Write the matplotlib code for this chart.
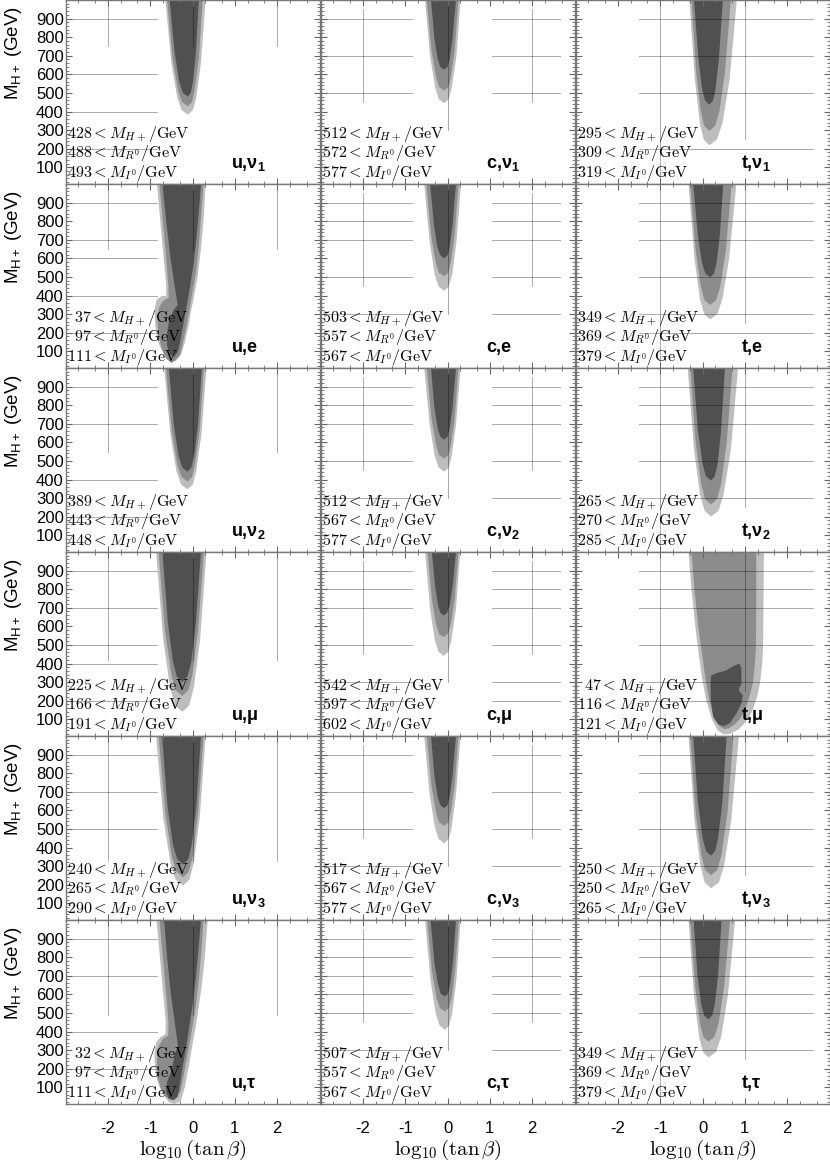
import numpy as np
import matplotlib.pyplot as plt
from matplotlib.ticker import FixedLocator, MultipleLocator

plt.rcParams['font.family'] = 'Liberation Sans'
plt.rcParams['mathtext.fontset'] = 'custom'
plt.rcParams['mathtext.rm'] = 'Liberation Sans'
plt.rcParams['mathtext.it'] = 'Liberation Sans:italic'
plt.rcParams['mathtext.bf'] = 'Liberation Sans:bold'

# panel grid: rows = lepton, columns = quark
quarks = ['u', 'c', 't']
leptons = [r'ν$_\mathbf{1}$', 'e', r'ν$_\mathbf{2}$', 'μ', r'ν$_\mathbf{3}$', 'τ']

# lower mass bounds printed in each panel (row-major)
mh_lo = [428, 512, 295, 37, 503, 349, 389, 512, 265, 225, 542, 47, 240, 517, 250, 32, 507, 349]
mr_lo = [488, 572, 309, 97, 557, 369, 443, 567, 270, 166, 597, 116, 265, 567, 250, 97, 557, 369]
mi_lo = [493, 577, 319, 111, 567, 379, 448, 577, 285, 191, 602, 121, 290, 577, 265, 111, 567, 379]

# allowed regions (outer / middle / inner), polygon outlines in (log10 tan b, M_H+)
light_x = [
    [-0.64, -0.50, -0.36, -0.26, -0.11, 0.01, 0.09, 0.20, 0.31],
    [-0.53, -0.41, -0.29, -0.21, -0.08, 0.03, 0.10, 0.21, 0.31],
    [-0.31, -0.18, -0.06, 0.03, 0.16, 0.34, 0.47, 0.64, 0.81],
    [-0.84, -0.76, -0.68, -0.62, -0.62, -0.75, -0.85, -0.89, -0.89, -0.86, -0.78, -0.66, -0.50, -0.38, -0.27, -0.18, -0.10, -0.03, 0.04, 0.12, 0.20, 0.26, 0.31],
    [-0.55, -0.42, -0.30, -0.21, -0.08, 0.03, 0.11, 0.21, 0.32],
    [-0.33, -0.19, -0.06, 0.04, 0.18, 0.35, 0.47, 0.63, 0.80],
    [-0.67, -0.52, -0.38, -0.27, -0.12, 0.01, 0.09, 0.21, 0.33],
    [-0.55, -0.42, -0.30, -0.21, -0.08, 0.03, 0.10, 0.20, 0.31],
    [-0.35, -0.20, -0.06, 0.05, 0.20, 0.38, 0.50, 0.67, 0.84],
    [-0.86, -0.69, -0.53, -0.41, -0.24, -0.08, 0.03, 0.18, 0.33],
    [-0.53, -0.41, -0.30, -0.21, -0.09, 0.02, 0.09, 0.20, 0.30],
    [-0.33, -0.26, -0.17, -0.09, -0.01, 0.09, 0.22, 0.36, 0.50, 0.65, 0.85, 1.01, 1.12, 1.19, 1.30, 1.36, 1.41, 1.43, 1.44, 1.45],
    [-0.86, -0.69, -0.52, -0.40, -0.22, -0.07, 0.03, 0.17, 0.31],
    [-0.55, -0.42, -0.30, -0.21, -0.08, 0.03, 0.10, 0.20, 0.31],
    [-0.33, -0.19, -0.05, 0.05, 0.20, 0.39, 0.51, 0.68, 0.86],
    [-0.85, -0.77, -0.69, -0.63, -0.64, -0.76, -0.86, -0.90, -0.89, -0.84, -0.72, -0.56, -0.42, -0.28, -0.18, -0.08, 0.00, 0.07, 0.14, 0.22, 0.29, 0.36],
    [-0.53, -0.40, -0.28, -0.19, -0.06, 0.04, 0.11, 0.21, 0.31],
    [-0.33, -0.20, -0.08, 0.01, 0.14, 0.32, 0.44, 0.60, 0.77],
]
light_y = [
    [1000, 661, 476, 408, 383, 408, 476, 661, 1000],
    [1000, 695, 528, 467, 445, 467, 528, 695, 1000],
    [1000, 570, 335, 249, 218, 249, 335, 570, 1000],
    [1000, 800, 600, 450, 400, 395, 375, 330, 270, 200, 130, 80, 50, 55, 80, 150, 230, 320, 400, 500, 650, 800, 1000],
    [1000, 684, 511, 448, 425, 448, 511, 684, 1000],
    [1000, 599, 380, 300, 271, 300, 380, 599, 1000],
    [1000, 641, 445, 373, 347, 373, 445, 641, 1000],
    [1000, 693, 526, 464, 442, 464, 526, 693, 1000],
    [1000, 560, 320, 232, 200, 232, 320, 560, 1000],
    [1000, 527, 269, 174, 140, 174, 269, 527, 1000],
    [1000, 693, 525, 463, 441, 463, 525, 693, 1000],
    [1000, 800, 600, 450, 320, 200, 100, 40, 18, 22, 45, 82, 120, 152, 230, 296, 400, 474, 700, 1000],
    [1000, 558, 317, 228, 196, 228, 317, 558, 1000],
    [1000, 683, 510, 446, 423, 446, 510, 683, 1000],
    [1000, 549, 303, 213, 180, 213, 303, 549, 1000],
    [1000, 800, 600, 450, 385, 370, 340, 280, 210, 140, 70, 20, 12, 25, 100, 220, 330, 420, 520, 650, 800, 1000],
    [1000, 675, 498, 433, 409, 433, 498, 675, 1000],
    [1000, 593, 371, 290, 260, 290, 371, 593, 1000],
]
mid_x = [
    [-0.60, -0.47, -0.34, -0.25, -0.11, -0.01, 0.05, 0.15, 0.24],
    [-0.49, -0.38, -0.27, -0.20, -0.08, 0.02, 0.08, 0.17, 0.26],
    [-0.26, -0.15, -0.04, 0.04, 0.16, 0.30, 0.40, 0.53, 0.67],
    [-0.78, -0.70, -0.62, -0.57, -0.56, -0.70, -0.80, -0.83, -0.80, -0.72, -0.62, -0.50, -0.40, -0.30, -0.22, -0.14, -0.07, 0.00, 0.08, 0.15, 0.20, 0.26],
    [-0.50, -0.39, -0.28, -0.20, -0.08, 0.02, 0.08, 0.17, 0.26],
    [-0.29, -0.16, -0.04, 0.05, 0.18, 0.32, 0.42, 0.55, 0.69],
    [-0.63, -0.49, -0.36, -0.26, -0.12, -0.01, 0.06, 0.17, 0.27],
    [-0.49, -0.38, -0.27, -0.20, -0.08, 0.02, 0.08, 0.17, 0.26],
    [-0.29, -0.16, -0.03, 0.06, 0.20, 0.34, 0.44, 0.57, 0.71],
    [-0.80, -0.65, -0.50, -0.40, -0.24, -0.10, 0.00, 0.13, 0.27],
    [-0.47, -0.37, -0.27, -0.20, -0.09, 0.01, 0.08, 0.17, 0.26],
    [-0.26, -0.19, -0.10, -0.01, 0.07, 0.16, 0.27, 0.40, 0.52, 0.62, 0.75, 0.88, 1.01, 1.12, 1.19, 1.24, 1.26, 1.27, 1.27],
    [-0.80, -0.64, -0.49, -0.38, -0.22, -0.09, 0.01, 0.13, 0.26],
    [-0.49, -0.38, -0.27, -0.20, -0.08, 0.02, 0.08, 0.17, 0.26],
    [-0.29, -0.16, -0.03, 0.06, 0.20, 0.35, 0.45, 0.59, 0.73],
    [-0.78, -0.70, -0.62, -0.57, -0.57, -0.70, -0.80, -0.84, -0.83, -0.76, -0.64, -0.50, -0.38, -0.28, -0.21, -0.13, -0.06, 0.01, 0.08, 0.15, 0.21, 0.26],
    [-0.48, -0.37, -0.26, -0.18, -0.06, 0.03, 0.10, 0.18, 0.27],
    [-0.29, -0.17, -0.06, 0.02, 0.14, 0.28, 0.38, 0.51, 0.65],
]
mid_y = [
    [1000, 685, 514, 451, 428, 451, 514, 685, 1000],
    [1000, 732, 585, 532, 512, 532, 585, 732, 1000],
    [1000, 612, 401, 323, 295, 323, 401, 612, 1000],
    [1000, 800, 600, 450, 390, 370, 330, 260, 180, 110, 60, 37, 50, 80, 150, 240, 330, 420, 520, 670, 820, 1000],
    [1000, 727, 578, 523, 503, 523, 578, 727, 1000],
    [1000, 642, 447, 375, 349, 375, 447, 642, 1000],
    [1000, 664, 481, 413, 389, 413, 481, 664, 1000],
    [1000, 732, 585, 532, 512, 532, 585, 732, 1000],
    [1000, 596, 375, 294, 265, 294, 375, 596, 1000],
    [1000, 574, 341, 256, 225, 256, 341, 574, 1000],
    [1000, 748, 611, 560, 542, 560, 611, 748, 1000],
    [1000, 800, 600, 450, 320, 200, 110, 62, 47, 52, 70, 100, 152, 230, 296, 400, 474, 700, 1000],
    [1000, 582, 354, 270, 240, 270, 354, 582, 1000],
    [1000, 734, 589, 536, 517, 536, 589, 734, 1000],
    [1000, 587, 362, 280, 250, 280, 362, 587, 1000],
    [1000, 800, 600, 450, 380, 360, 320, 250, 170, 100, 50, 32, 40, 80, 160, 260, 350, 440, 540, 680, 830, 1000],
    [1000, 729, 581, 527, 507, 527, 581, 729, 1000],
    [1000, 640, 443, 371, 345, 371, 443, 640, 1000],
]
dark_x = [
    [-0.54, -0.42, -0.31, -0.23, -0.11, -0.04, 0.01, 0.08, 0.15],
    [-0.39, -0.31, -0.23, -0.17, -0.08, 0.00, 0.05, 0.12, 0.20],
    [-0.20, -0.10, -0.01, 0.06, 0.16, 0.25, 0.31, 0.39, 0.48],
    [-0.71, -0.62, -0.52, -0.42, -0.35, -0.45, -0.55, -0.60, -0.60, -0.53, -0.43, -0.35, -0.28, -0.22, -0.15, -0.07, 0.02, 0.10, 0.15, 0.20],
    [-0.41, -0.32, -0.24, -0.17, -0.08, 0.00, 0.05, 0.12, 0.20],
    [-0.22, -0.11, -0.01, 0.07, 0.18, 0.27, 0.33, 0.41, 0.49],
    [-0.56, -0.44, -0.33, -0.24, -0.12, -0.03, 0.04, 0.13, 0.22],
    [-0.39, -0.31, -0.23, -0.17, -0.08, 0.00, 0.05, 0.12, 0.20],
    [-0.22, -0.11, 0.00, 0.08, 0.20, 0.29, 0.36, 0.44, 0.53],
    [-0.71, -0.58, -0.46, -0.37, -0.24, -0.12, -0.03, 0.08, 0.20],
    [-0.37, -0.29, -0.22, -0.17, -0.09, -0.01, 0.05, 0.12, 0.20],
    [0.20, 0.35, 0.55, 0.72, 0.87, 0.92, 0.92, 0.86, 0.87, 0.95, 0.93, 0.80, 0.65, 0.50, 0.36, 0.25, 0.20, 0.19],
    [-0.72, -0.59, -0.46, -0.36, -0.22, -0.10, -0.02, 0.09, 0.20],
    [-0.39, -0.31, -0.23, -0.17, -0.08, 0.00, 0.05, 0.12, 0.20],
    [-0.22, -0.11, 0.00, 0.08, 0.20, 0.30, 0.37, 0.47, 0.57],
    [-0.67, -0.60, -0.51, -0.42, -0.34, -0.42, -0.48, -0.60, -0.63, -0.57, -0.45, -0.35, -0.30, -0.24, -0.16, -0.08, 0.00, 0.08, 0.14, 0.20],
    [-0.40, -0.31, -0.22, -0.16, -0.06, 0.01, 0.06, 0.13, 0.20],
    [-0.21, -0.12, -0.03, 0.04, 0.14, 0.23, 0.29, 0.37, 0.45],
]
dark_y = [
    [1000, 714, 558, 501, 480, 501, 558, 714, 1000],
    [1000, 794, 681, 640, 625, 640, 681, 794, 1000],
    [1000, 690, 521, 459, 436, 459, 521, 690, 1000],
    [1000, 800, 600, 450, 350, 320, 270, 200, 130, 80, 70, 95, 160, 240, 330, 430, 560, 720, 850, 1000],
    [1000, 780, 660, 616, 600, 616, 660, 780, 1000],
    [1000, 724, 573, 518, 498, 518, 573, 724, 1000],
    [1000, 693, 526, 464, 442, 464, 526, 693, 1000],
    [1000, 788, 673, 630, 615, 630, 673, 788, 1000],
    [1000, 667, 485, 418, 394, 418, 485, 667, 1000],
    [1000, 616, 407, 330, 302, 330, 407, 616, 1000],
    [1000, 812, 710, 673, 659, 673, 710, 812, 1000],
    [335, 350, 362, 385, 400, 375, 290, 265, 250, 230, 190, 130, 80, 62, 75, 115, 200, 280],
    [1000, 620, 413, 337, 309, 337, 413, 620, 1000],
    [1000, 787, 670, 628, 612, 628, 670, 787, 1000],
    [1000, 646, 453, 382, 356, 382, 453, 646, 1000],
    [1000, 800, 600, 450, 320, 280, 200, 130, 80, 40, 30, 50, 110, 200, 300, 420, 540, 690, 840, 1000],
    [1000, 773, 650, 604, 588, 604, 650, 773, 1000],
    [1000, 706, 545, 486, 465, 486, 545, 706, 1000],
]

# horizontal grid levels that show in each panel
grid_levels = [
    [200, 400, 600, 900], [500, 700, 900], [200, 500, 700, 900],
    [200, 400, 600, 700, 900], [300, 500, 700, 800, 900], [200, 300, 500, 700, 800, 900],
    [200, 400, 700, 900], [300, 500, 700, 800, 900], [300, 500, 700, 800, 900],
    [200, 400, 500, 700, 900], [200, 300, 500, 700, 800, 900], [200, 300, 500, 700, 800, 900],
    [500, 700, 900], [300, 500, 700, 900], [300, 500, 700, 800, 900],
    [200, 400, 700, 900], [300, 500, 600, 700, 800, 900], [300, 500, 600, 700, 800, 900],
]
vgrid_start_u = [750, 650, 550, 420, 330, 490]

c_light, c_mid, c_dark = '#bdbdbd', '#8c8c8c', '#505050'
grid_kw = dict(color='k', alpha=0.33, lw=0.7, zorder=1.5)

fig = plt.figure(figsize=(8.3, 11.63), dpi=100)
W, H = 830.0, 1163.0

for r in range(6):
    for c in range(3):
        k = 3 * r + c
        ax = fig.add_axes([(65.5 + 255 * c) / W, 1 - 184 * (r + 1) / H, 254 / W, 184 / H])
        ax.set_xlim(-3, 3)
        ax.set_ylim(10, 1000)

        ax.fill(light_x[k], light_y[k], color=c_light, lw=0, zorder=1)
        ax.fill(mid_x[k], mid_y[k], color=c_mid, lw=0, zorder=1.1)
        ax.fill(dark_x[k], dark_y[k], color=c_dark, lw=0, zorder=1.2)

        # partial grid lines
        if c == 0:
            spans = [(-3, -0.85)]
            for xv in (-2, 0, 2):
                ax.plot([xv, xv], [vgrid_start_u[r], 1000], **grid_kw)
        elif c == 1:
            spans = [(-3, -0.85), (1.05, 2.65)]
            ax.plot([0, 0], [300, 1000], **grid_kw)
            for xv in (-2, 2):
                ax.plot([xv, xv], [450, 950], **grid_kw)
        else:
            spans = [(-1.5, 2.6)]
            ax.plot([-1, -1], [10, 1000], **grid_kw)
            ax.plot([1, 1], [250, 1000], **grid_kw)
        for yv in grid_levels[k]:
            for x0, x1 in spans:
                ax.plot([x0, x1], [yv, yv], **grid_kw)

        # ticks
        ax.xaxis.set_major_locator(FixedLocator([-2, -1, 0, 1, 2]))
        ax.xaxis.set_minor_locator(FixedLocator([d + np.log10(m) for d in range(-3, 3) for m in (2, 5)]))
        ax.yaxis.set_major_locator(FixedLocator(list(range(100, 1000, 100))))
        ax.yaxis.set_minor_locator(MultipleLocator(20))
        ax.tick_params(which='both', direction='in', top=True, right=True,
                       color='#666666', labelsize=12)
        ax.tick_params(which='major', length=4.5, width=0.8)
        ax.tick_params(which='minor', length=2.2, width=0.6)
        ax.tick_params(axis='y', pad=1.2)
        ax.tick_params(axis='x', pad=12)
        for s in ax.spines.values():
            s.set_color('#777777')
            s.set_linewidth(1.0)
        if c == 0:
            ax.set_yticklabels([str(v) for v in range(100, 1000, 100)])
            ax.text(-0.205, 0.71, r'M$_{\mathregular{H+}}$ (GeV)', transform=ax.transAxes,
                    rotation=90, ha='center', va='center', fontsize=13.5)
        else:
            ax.set_yticklabels([])
        if r == 5:
            ax.set_xticklabels(['-2', '-1', '0', '1', '2'])
        else:
            ax.set_xticklabels([])

        # bounds text
        names = ['H+', 'R^0', 'I^0']
        for i, (val, yb) in enumerate(zip((mh_lo[k], mr_lo[k], mi_lo[k]), (260, 154, 48))):
            num = str(val) if val >= 100 else r'\enspace ' + str(val)
            ax.text(-2.96, yb, rf'${num} < M_{{{names[i]}}}/\mathrm{{GeV}}$',
                    math_fontfamily='cm', fontsize=11.6, ha='left', va='baseline', zorder=3)

        ax.text(0.92, 98, quarks[c] + ',' + leptons[r], fontsize=13, fontweight='bold',
                ha='left', va='baseline', zorder=3)

for c in range(3):
    fig.text((192.5 + 255 * c) / W, 1 - 1150 / H, r'$\log_{10}(\tan\beta)$',
             math_fontfamily='cm', fontsize=15, ha='center', va='center')

fig.savefig('out.png', dpi=100)
